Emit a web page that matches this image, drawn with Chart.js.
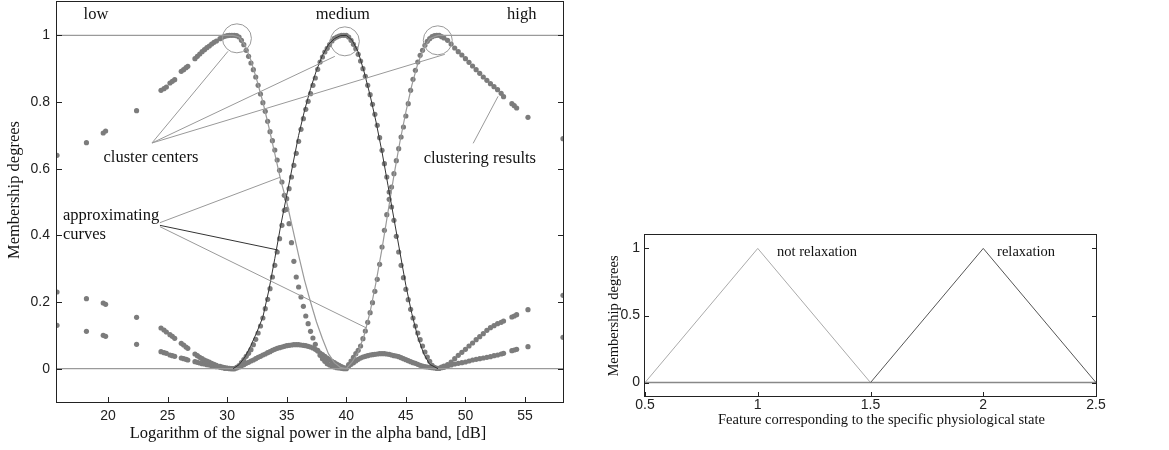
<!DOCTYPE html>
<html>
<head>
<meta charset="utf-8">
<script src="https://cdn.jsdelivr.net/npm/chart.js@4.4.0/dist/chart.umd.min.js"></script>
<style>
  html, body { margin: 0; padding: 0; background: #fff; }
  #boxAlfa { position: absolute; left: 0; top: 0; width: 590px; height: 450px; }
  #boxEstado { position: absolute; left: 590px; top: 0; width: 579px; height: 450px; }
</style>
</head>
<body>
<div id="boxAlfa"><canvas id="graficoAlfa"></canvas></div>
<div id="boxEstado"><canvas id="graficoEstado"></canvas></div>
<script>
// ---- left chart: clustering of alpha band power ----
const powerTicks = [20, 25, 30, 35, 40, 45, 50, 55];
const degreeTicks = [0, 0.2, 0.4, 0.6, 0.8, 1];

// sample positions (dB) of the clustering results
const samples = [
  15.72, 18.19, 19.6, 19.8, 22.4, 24.45, 24.7, 24.9, 25.2, 25.4, 25.6, 26.15, 26.35, 26.55, 26.7,
  27.3, 27.5, 27.7, 27.9, 28.1, 28.3, 28.5, 28.7, 28.9, 29.1, 29.4, 29.6, 29.8, 30.0, 30.2, 30.4, 30.6, 30.8,
  31.0, 31.2, 31.4, 31.6, 31.8, 32.0, 32.2, 32.4, 32.6, 32.8, 33.0, 33.2, 33.4, 33.6, 33.8, 34.0, 34.2, 34.4, 34.6, 34.8,
  35.0, 35.2, 35.4, 35.6, 35.8, 36.0, 36.2, 36.4, 36.6, 36.8, 37.0, 37.2, 37.4, 37.6, 37.8, 38.0, 38.2, 38.4, 38.6, 38.8,
  39.0, 39.2, 39.4, 39.6, 39.8, 40.0,
  40.2, 40.4, 40.6, 40.8, 41.0, 41.2, 41.4, 41.6, 41.8, 42.0, 42.2, 42.4, 42.6, 42.8, 43.0, 43.2, 43.4, 43.6, 43.8, 44.0,
  44.2, 44.4, 44.6, 44.8, 45.0, 45.2, 45.4, 45.6, 45.8, 46.0, 46.2, 46.4, 46.6, 46.8, 47.0, 47.2, 47.4, 47.6, 47.8, 48.0,
  48.2, 48.5, 48.8, 49.1, 49.4, 49.7, 50.0, 50.3, 50.6, 50.9, 51.2, 51.5, 51.8, 52.1, 52.4, 52.7, 53.0, 53.2,
  53.9, 54.1, 54.3, 55.25, 58.19
];
const lowDeg = [
  .64, .678, .707, .713, .774, .835, .840, .845, .857, .862, .867, .892, .897, .903, .907,
  .930, .937, .944, .951, .957, .963, .968, .974, .979, .983, .990, .994, .997, .999, 1, 1, 1, .999,
  .995, .985, .972, .955, .937, .917, .897, .875, .850, .824, .798, .772, .742, .711, .684, .656, .626, .595, .560, .520,
  .478, .435, .378, .322, .275, .245, .215, .187, .158, .135, .112, .092, .073, .055, .040, .030, .022, .015, .011, .007,
  .005, .003, .002, .001, 0, 0,
  .008, .013, .018, .023, .028, .032, .035, .037, .039, .041, .042, .043, .044, .045, .045, .045, .044, .043, .041, .039,
  .038, .036, .033, .030, .027, .024, .021, .018, .016, .013, .010, .008, .006, .005, .004, .003, .002, .001, .001, .003,
  .004, .008, .011, .014, .016, .018, .020, .023, .026, .028, .030, .032, .034, .036, .039, .041, .044, .046,
  .054, .056, .058, .066, .094
];
const mediumDeg = [
  .23, .21, .197, .193, .154, .122, .116, .110, .102, .097, .091, .076, .071, .065, .061,
  .044, .039, .034, .030, .026, .023, .020, .016, .013, .010, .007, .005, .003, .002, .001, 0, 0, .004,
  .009, .018, .027, .037, .046, .057, .072, .088, .107, .128, .152, .180, .208, .240, .275, .31, .35, .39, .43, .475,
  .51, .54, .575, .61, .646, .682, .718, .750, .778, .802, .825, .850, .872, .898, .920, .935, .950, .961, .972, .983,
  .991, .995, .998, 1, 1, 1,
  .995, .985, .973, .960, .943, .923, .900, .877, .850, .822, .793, .763, .730, .693, .655, .615, .575, .530, .485, .445,
  .397, .350, .310, .273, .238, .207, .178, .152, .128, .107, .087, .068, .050, .035, .022, .010, .004, .001, .001, .005,
  .008, .012, .020, .030, .040, .049, .058, .068, .077, .087, .096, .105, .115, .123, .129, .135, .139, .143,
  .155, .158, .162, .177, .22
];
const highDeg = [
  .13, .112, .10, .097, .073, .051, .048, .046, .041, .039, .037, .032, .030, .028, .026,
  .021, .019, .017, .015, .014, .012, .011, .009, .007, .006, .004, .003, .001, .001, 0, 0, 0, .002,
  .005, .009, .012, .016, .019, .023, .026, .030, .034, .037, .041, .044, .048, .051, .055, .058, .061, .063, .065, .067,
  .069, .070, .071, .072, .072, .072, .071, .070, .069, .067, .065, .062, .058, .053, .047, .042, .037, .032, .027, .022,
  .018, .014, .010, .006, .003, .001,
  .012, .023, .034, .045, .055, .068, .090, .113, .139, .168, .198, .232, .268, .313, .365, .415, .462, .508, .545, .585,
  .624, .660, .695, .725, .758, .795, .835, .868, .895, .920, .940, .955, .970, .982, .990, .996, .999, 1, 1, .996,
  .992, .985, .974, .962, .951, .941, .930, .919, .908, .897, .886, .875, .865, .855, .846, .837, .826, .816,
  .795, .789, .782, .754, .69
];

// approximating curves
const lowFitX = [15.72, 30.5, 31.0, 31.5, 32.0, 32.5, 33.0, 33.5, 34.0, 34.5, 35.0, 35.5, 36.0, 36.5, 37.0, 37.5, 38.0, 38.5, 39.0, 39.5, 40.0, 58.19];
const lowFitY = [1, 1, .995, .97, .925, .865, .80, .725, .645, .565, .50, .42, .34, .265, .20, .14, .09, .045, .018, .004, 0, 0];
const mediumFitX = [30.5, 31.0, 31.5, 32.0, 32.5, 33.0, 33.5, 34.0, 34.5, 35.0, 35.5, 36.0, 36.5, 37.0, 37.5, 38.0, 38.5, 39.0, 39.5, 40.0,
  40.5, 41.0, 41.5, 42.0, 42.5, 43.0, 43.5, 44.0, 44.5, 45.0, 45.5, 46.0, 46.5, 47.0, 47.7];
const mediumFitY = [0, .012, .035, .07, .11, .155, .235, .33, .43, .52, .61, .70, .775, .84, .895, .94, .972, .99, .999, 1,
  .985, .95, .89, .82, .74, .65, .55, .45, .35, .25, .165, .095, .045, .013, 0];
const highFitX = [15.72, 40.0, 40.5, 41.0, 41.5, 42.0, 42.5, 43.0, 43.5, 44.0, 44.5, 45.0, 45.5, 46.0, 46.5, 47.0, 47.7, 58.19];
const highFitY = [0, 0, .02, .05, .10, .17, .26, .36, .47, .58, .68, .77, .85, .915, .96, .99, 1, 1];

// cluster centers (circled)
const centerX = [30.82, 39.88, 47.68];
const centerY = [.991, .982, .985];

// ---- right chart: relaxation membership ----
const featureTicks = [0.5, 1, 1.5, 2, 2.5];
const stateTicks = [0, 0.5, 1];
const notRelaxX = [0.5, 1, 1.5];
const notRelaxY = [0, 1, 0];
const relaxX = [1.5, 2, 2.5];
const relaxY = [0, 1, 0];
const baseX = [0.5, 2.5];
const baseY = [0, 0];

const corPonto = '#7c7c7c';
const corTexto = '#111';
const fonteSerif = '"Liberation Serif", "Times New Roman", serif';
const fonteSans = '"Liberation Sans", Arial, sans-serif';

const pares = (xs, ys) => xs.map((v, i) => ({ x: v, y: ys[i] }));

// draws the matlab-like frame, inward ticks, notes and axis titles
const desenhoExtra = {
    id: 'desenhoExtra',
    afterDatasetsDraw(chart, args, o) {
        const { ctx, chartArea: a, scales: { x, y } } = chart;
        ctx.save();
        ctx.lineWidth = 1;
        // leader lines
        o.linhas.forEach(l => {
            ctx.strokeStyle = l.cor;
            ctx.beginPath();
            ctx.moveTo(x.getPixelForValue(l.de[0]), y.getPixelForValue(l.de[1]));
            ctx.lineTo(x.getPixelForValue(l.ate[0]), y.getPixelForValue(l.ate[1]));
            ctx.stroke();
        });
        // frame + ticks
        ctx.strokeStyle = '#222';
        ctx.strokeRect(a.left - 0.5, a.top - 0.5, a.right - a.left + 1, a.bottom - a.top + 1);
        ctx.beginPath();
        x.ticks.forEach(t => {
            const px = Math.round(x.getPixelForValue(t.value)) + 0.5;
            ctx.moveTo(px, a.bottom);
            ctx.lineTo(px, a.bottom - o.tick);
        });
        y.ticks.forEach(t => {
            const py = Math.round(y.getPixelForValue(t.value)) + 0.5;
            ctx.moveTo(a.left, py);
            ctx.lineTo(a.left + o.tick, py);
            ctx.moveTo(a.right, py);
            ctx.lineTo(a.right - o.tick, py);
        });
        ctx.stroke();
        // notes
        ctx.fillStyle = corTexto;
        ctx.textBaseline = 'middle';
        ctx.font = o.fonte;
        o.textos.forEach(t => {
            ctx.textAlign = t.alinha || 'center';
            ctx.fillText(t.txt, x.getPixelForValue(t.x), y.getPixelForValue(t.y));
        });
        // axis titles
        ctx.font = o.fonteTitulo;
        ctx.textAlign = 'center';
        ctx.fillText(o.tituloX, (a.left + a.right) / 2 + o.desvioX, a.bottom + o.alturaX);
        ctx.translate(o.posY[0], o.posY[1]);
        ctx.rotate(-Math.PI / 2);
        ctx.fillText(o.tituloY, 0, 0);
        ctx.restore();
    }
};

function eixos(xMin, xMax, xTicks, yTicks, largY, altX, padX, padY) {
    const base = {
        type: 'linear',
        grid: { display: false, drawTicks: false },
        border: { display: false },
        ticks: {
            font: { family: fonteSans, size: 14 },
            color: '#222',
            maxRotation: 0,
            callback: v => String(v)
        }
    };
    return {
        x: {
            ...base, min: xMin, max: xMax,
            ticks: { ...base.ticks, padding: padX },
            afterBuildTicks: s => { s.ticks = xTicks.map(v => ({ value: v })); },
            afterFit: s => { s.height = altX; s.paddingLeft = 0; s.paddingRight = 0; }
        },
        y: {
            ...base, min: -0.1, max: 1.1,
            ticks: { ...base.ticks, padding: padY },
            afterBuildTicks: s => { s.ticks = yTicks.map(v => ({ value: v })); },
            afterFit: s => { s.width = largY; s.paddingTop = 0; s.paddingBottom = 0; }
        }
    };
}

const linhaFit = (dados, cor, largura) => ({
    type: 'scatter', data: dados, showLine: true, borderColor: cor, borderWidth: largura,
    pointRadius: 0, pointHoverRadius: 0, fill: false
});
const nuvem = (ys) => ({
    type: 'scatter', data: pares(samples, ys), backgroundColor: corPonto, borderWidth: 0,
    pointRadius: 2.6, pointHoverRadius: 2.6
});

new Chart(document.getElementById('graficoAlfa'), {
    type: 'scatter',
    data: {
        datasets: [
            linhaFit(pares(mediumFitX, mediumFitY), '#333', 1),
            linhaFit(pares(lowFitX, lowFitY), '#9a9a9a', 1.2),
            linhaFit(pares(highFitX, highFitY), '#9a9a9a', 1.2),
            {
                type: 'scatter', data: pares(centerX, centerY), pointStyle: 'circle',
                pointRadius: 14.5, pointHoverRadius: 14.5, backgroundColor: 'rgba(0,0,0,0)',
                borderColor: '#999', borderWidth: 1
            },
            nuvem(lowDeg),
            nuvem(mediumDeg),
            nuvem(highDeg)
        ]
    },
    options: {
        animation: false,
        responsive: true,
        maintainAspectRatio: false,
        layout: { autoPadding: false, padding: { top: 2, right: 27, left: 0, bottom: 0 } },
        scales: eixos(15.72, 58.19, powerTicks, degreeTicks, 57, 48, 6, 7),
        plugins: {
            legend: { display: false },
            tooltip: { enabled: false },
            desenhoExtra: {
                tick: 5,
                fonte: '16.5px ' + fonteSerif,
                fonteTitulo: '16.5px ' + fonteSerif,
                tituloX: 'Logarithm of the signal power in the alpha band, [dB]',
                desvioX: -2, alturaX: 32,
                tituloY: 'Membership degrees',
                posY: [15, 190],
                linhas: [
                    { de: [23.69, .677], ate: [30.07, .952], cor: '#999' },
                    { de: [23.69, .677], ate: [39.04, .937], cor: '#999' },
                    { de: [23.69, .677], ate: [48.27, .943], cor: '#999' },
                    { de: [24.36, .438], ate: [34.43, .574], cor: '#999' },
                    { de: [24.36, .430], ate: [34.26, .356], cor: '#333' },
                    { de: [24.36, .426], ate: [41.7, .122], cor: '#999' },
                    { de: [50.65, .676], ate: [52.74, .817], cor: '#999' }
                ],
                textos: [
                    { txt: 'low', x: 18.99, y: 1.063 },
                    { txt: 'medium', x: 39.71, y: 1.063 },
                    { txt: 'high', x: 54.73, y: 1.063 },
                    { txt: 'cluster centers', x: 23.6, y: .634 },
                    { txt: 'clustering results', x: 51.21, y: .631 },
                    { txt: 'approximating', x: 16.22, y: .459, alinha: 'left' },
                    { txt: 'curves', x: 16.22, y: .402, alinha: 'left' }
                ]
            }
        }
    },
    plugins: [desenhoExtra]
});

new Chart(document.getElementById('graficoEstado'), {
    type: 'scatter',
    data: {
        datasets: [
            linhaFit(pares(relaxX, relaxY), '#555', 1),
            linhaFit(pares(notRelaxX, notRelaxY), '#aaa', 1),
            linhaFit(pares(baseX, baseY), '#888', 1.5)
        ]
    },
    options: {
        animation: false,
        responsive: true,
        maintainAspectRatio: false,
        layout: { autoPadding: false, padding: { top: 235, right: 73, left: 0, bottom: 0 } },
        scales: eixos(0.5, 2.5, featureTicks, stateTicks, 55, 54, 1, 5),
        plugins: {
            legend: { display: false },
            tooltip: { enabled: false },
            desenhoExtra: {
                tick: 4,
                fonte: '14.5px ' + fonteSerif,
                fonteTitulo: '14.5px ' + fonteSerif,
                tituloX: 'Feature corresponding to the specific physiological state',
                desvioX: 11, alturaX: 24,
                tituloY: 'Membership degrees',
                posY: [24, 316],
                linhas: [],
                textos: [
                    { txt: 'not relaxation', x: 1.263, y: .972 },
                    { txt: 'relaxation', x: 2.19, y: .972 }
                ]
            }
        }
    },
    plugins: [desenhoExtra]
});
</script>
</body>
</html>
